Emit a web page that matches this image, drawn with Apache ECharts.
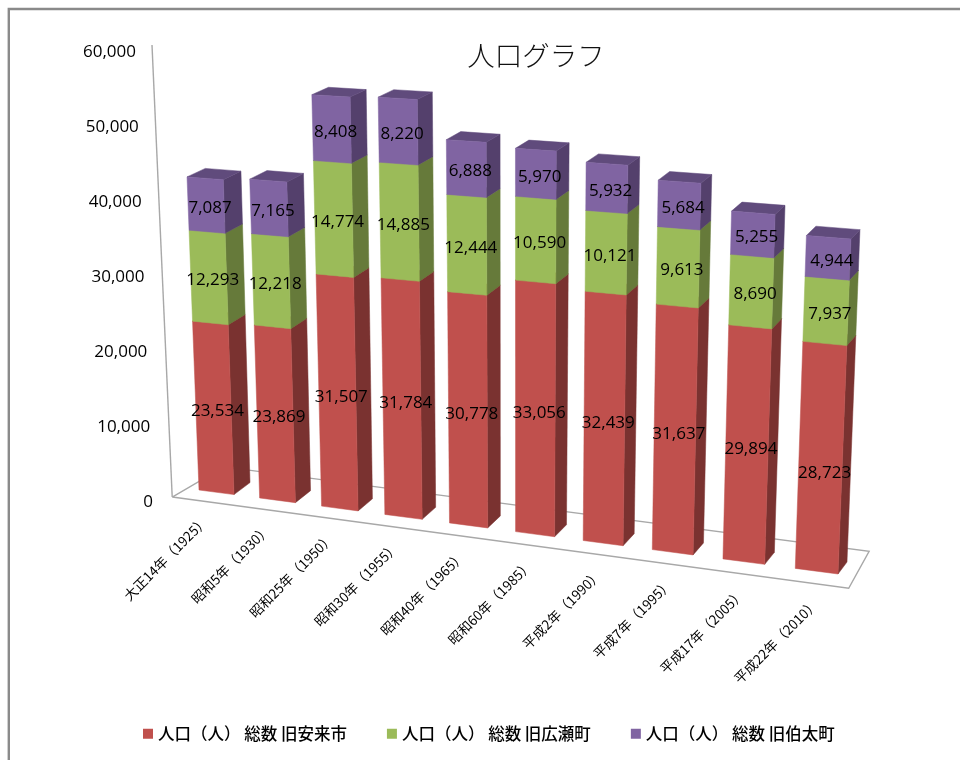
<!DOCTYPE html>
<html lang="ja">
<head>
<meta charset="utf-8">
<style>html,body{margin:0;padding:0;background:#fff}#c{width:960px;height:760px}</style>
<script src="https://cdn.jsdelivr.net/npm/echarts@6/dist/echarts.min.js"></script>
</head>
<body>
<div id="c"></div>
<script>
const categories = ['大正14年（1925）','昭和5年（1930）','昭和25年（1950）','昭和30年（1955）','昭和40年（1965）','昭和60年（1985）','平成2年（1990）','平成7年（1995）','平成17年（2005）','平成22年（2010）'];
const yasugi  = [23534,23869,31507,31784,30778,33056,32439,31637,29894,28723];
const hirose  = [12293,12218,14774,14885,12444,10590,10121,9613,8690,7937];
const hakuta  = [7087,7165,8408,8220,6888,5970,5932,5684,5255,4944];
const seriesNames = ['人口（人） 総数 旧安来市','人口（人） 総数 旧広瀬町','人口（人） 総数 旧伯太町'];
const yTicks = [0,10000,20000,30000,40000,50000,60000];

const stacks = [yasugi, hirose, hakuta];
const faces = [
  {front:'#C0504D', side:'#7A3230', top:'#8E3B39'},
  {front:'#9BBB59', side:'#667A3A', top:'#7C9647'},
  {front:'#8064A2', side:'#54406C', top:'#604B7C'}
];
const sansFont = '"Open Sans","Noto Sans CJK JP",sans-serif';
const cjkFont = '"Noto Sans CJK JP",sans-serif';
const grid = {left:100, top:52, width:760, height:450};
const barFrac = 0.58;
const yMax = 60000;

// Perspective camera: square-to-quad homographies for the plane of the bars' fronts and backs.
function homography(p) {
  const [[x0,y0],[x1,y1],[x2,y2],[x3,y3]] = p;
  const dx1=x1-x2, dx2=x3-x2, dx3=x0-x1+x2-x3, dy1=y1-y2, dy2=y3-y2, dy3=y0-y1+y2-y3;
  const den=dx1*dy2-dx2*dy1, g=(dx3*dy2-dx2*dy3)/den, h=(dx1*dy3-dx3*dy1)/den;
  const a=x1-x0+g*x1, b=x3-x0+h*x3, d=y1-y0+g*y1, e=y3-y0+h*y3;
  return (u,v)=>{const w=g*u+h*v+1; return [(a*u+b*v+x0)/w,(d*u+e*v+y0)/w];};
}
const frontPlane = homography([[199,490],[838,574],[857,82],[182,45.6]]);
const backPlane  = homography([[215.5,478],[847,562],[866,74.5],[201,39]]);
const slotEdge = (1-barFrac)/2/categories.length;

// px,py come from the chart's axes; depth 0 = front face, 1 = back face.
function project(px, py, depth) {
  const gx=(px-grid.left)/grid.width, gy=(grid.top+grid.height-py)/grid.height;
  const u=(gx-slotEdge)/(1-2*slotEdge);
  const f=frontPlane(u,gy), b=backPlane(u,gy);
  return [f[0]+(b[0]-f[0])*depth, f[1]+(b[1]-f[1])*depth];
}

function barRenderer(stackIndex) {
  return function(params, api) {
    const i=params.dataIndex, slot=api.size([1,0])[0], half=slot*barFrac/2;
    let base=0; for(let s=0;s<stackIndex;s++) base+=stacks[s][i];
    const value=stacks[stackIndex][i];
    const lo=api.coord([i,base]), hi=api.coord([i,base+value]);
    const xl=lo[0]-half, xr=lo[0]+half;
    const A=project(xl,lo[1],0),B=project(xr,lo[1],0),C=project(xr,hi[1],0),D=project(xl,hi[1],0);
    const Bb=project(xr,lo[1],1),Cb=project(xr,hi[1],1),Db=project(xl,hi[1],1);
    const mid=project(lo[0],(lo[1]+hi[1])/2,0);
    const c=faces[stackIndex];
    const lowered=(stackIndex===0 && i===categories.length-1)?14:3; // the last red label sits lower in the reference
    return {type:'group',children:[
      {type:'polygon',shape:{points:[B,Bb,Cb,C]},style:{fill:c.side,stroke:c.side,lineWidth:.5}},
      {type:'polygon',shape:{points:[D,C,Cb,Db]},style:{fill:c.top,stroke:c.top,lineWidth:.5}},
      {type:'polygon',shape:{points:[A,B,C,D]},style:{fill:c.front,stroke:c.front,lineWidth:.5}},
      {type:'text',z2:100,x:mid[0]+4,y:mid[1]+lowered,style:{text:value.toLocaleString('en-US'),fill:'#000',font:'17px '+sansFont,textAlign:'center',textVerticalAlign:'middle'}}
    ]};
  };
}

function frameRenderer(params, api) {
  const x0=api.coord([0,0]), top=api.coord([0,yMax]), slot=api.size([1,0])[0];
  const fp=(cat,d)=>project(x0[0]+slot*(cat-0.29),x0[1],d);
  const FL=fp(-0.24,-0.744), FR=fp(9.84,-0.98), BR=fp(9.755,2.04), BL=fp(-0.1,1.86);
  const line={stroke:'#a8a8a8',lineWidth:1.4,fill:null};
  return {type:'group',children:[
    {type:'polyline',shape:{points:[FL,FR,BR,BL,FL]},style:line},
    {type:'line',shape:{x1:FL[0],y1:FL[1],x2:152,y2:top[1]-7},style:line}
  ]};
}

function xLabelRenderer(params, api) {
  const i=params.dataIndex, p=api.coord([i,0]);
  const a=project(p[0],p[1],-0.85);
  return {type:'text',x:a[0]+3+0.45*i,y:a[1]+16+0.45*i,rotation:Math.PI/4,
    style:{text:categories[i],fill:'#000',font:'13.5px '+cjkFont,textAlign:'right',textVerticalAlign:'middle'}};
}

function yLabelRenderer(params, api) {
  const v=yTicks[params.dataIndex], p=api.coord([0,v]);
  return {type:'text',x:136+17*(1-v/yMax),y:p[1],
    style:{text:v.toLocaleString('en-US'),fill:'#000',font:'17px '+sansFont,textAlign:'right',textVerticalAlign:'middle'}};
}

const chart=echarts.init(document.getElementById('c'));
chart.setOption({
  animation:false,
  backgroundColor:'#fff',
  title:{text:'人口グラフ',left:531,top:37,textAlign:'center',textStyle:{fontFamily:cjkFont,fontSize:27.5,fontWeight:300,color:'#111'}},
  graphic:[{type:'rect',silent:true,z:-1,shape:{x:8.8,y:9,width:1200,height:1200},style:{fill:'none',stroke:'#8a8a8a',lineWidth:2.4}}],
  legend:{bottom:13,left:138,itemWidth:10,itemHeight:10,itemGap:40,icon:'rect',
    data:seriesNames,
    textStyle:{fontFamily:cjkFont,fontSize:16.5,fontWeight:500,color:'#000',padding:[0,0,0,0]}},
  grid:grid,
  xAxis:{type:'category',data:categories,axisLine:{show:false},axisTick:{show:false},axisLabel:{show:false},splitLine:{show:false}},
  yAxis:{type:'value',min:0,max:yMax,interval:10000,axisLine:{show:false},axisTick:{show:false},axisLabel:{show:false},splitLine:{show:false}},
  series:[
    {type:'custom',name:'frame',z:1,silent:true,data:[[0,0]],encode:{x:0,y:1},renderItem:frameRenderer},
    {type:'custom',name:'ylabels',z:1,silent:true,data:yTicks.map(v=>[0,v]),encode:{x:0,y:1},renderItem:yLabelRenderer},
    {type:'custom',name:'xlabels',z:1,silent:true,data:categories.map((c,i)=>[i,0]),encode:{x:0,y:1},renderItem:xLabelRenderer}
  ].concat(stacks.map((vals,s)=>({
    type:'custom',name:seriesNames[s],z:2,itemStyle:{color:faces[s].front},
    data:vals.map((v,i)=>[i,v]),encode:{x:0,y:1},renderItem:barRenderer(s)
  })))
});
</script>
</body>
</html>
